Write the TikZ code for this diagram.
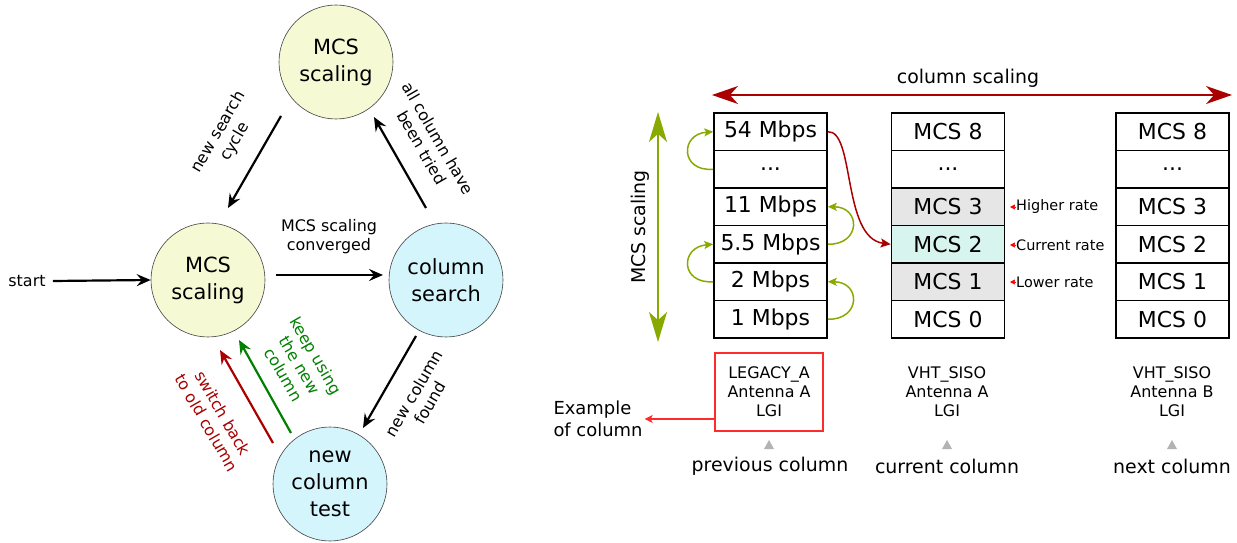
\documentclass[tikz,border=0pt]{standalone}
\usepackage{fontspec}
\setmainfont{DejaVu Sans}
\usetikzlibrary{arrows.meta,calc}
\definecolor{cyel}{HTML}{F6FAD4}
\definecolor{cblu}{HTML}{D5F5FD}
\definecolor{dred}{HTML}{AA0000}
\definecolor{dgreen}{HTML}{008000}
\definecolor{olv}{HTML}{88AA00}
\definecolor{brred}{HTML}{FF2A2A}
\definecolor{cgray}{HTML}{E6E6E6}
\definecolor{cteal}{HTML}{D7F4EE}
\definecolor{tgray}{HTML}{B3B3B3}
\newcommand{\fsz}[2]{\fontsize{#1}{#2}\selectfont}
\begin{document}
\begin{tikzpicture}[x=1bp,y=-1bp,
  state/.style={circle,draw=black!75,line width=0.6pt,minimum size=114bp,inner sep=0pt,align=center,font=\fsz{21}{27}},
  elabel/.style={align=center,font=\fsz{16}{19},inner sep=0pt},
  arr/.style={line width=2.2pt,-{Stealth[length=14pt,width=12pt,inset=5pt]}},
  cell/.style={draw,line width=1.6pt,minimum width=113bp,minimum height=37.5bp,inner sep=0pt,font=\fsz{22}{26}},
  olvcurve/.style={olv,line width=1.5pt,-{Stealth[length=9pt,width=8pt,inset=2pt]}},
  ratelab/.style={anchor=west,inner sep=0pt,font=\fsz{14.5}{17}},
  ratetip/.style={red,line width=0.5pt,-{Triangle[length=5pt,width=5pt]}},
  colinfo/.style={align=center,font=\fsz{16}{19},inner sep=0pt},
  collab/.style={font=\fsz{19}{22},inner sep=0pt}]
\useasboundingbox (0,0) rectangle (1237,543);

% ---------- left: state machine ----------
\node[state,fill=cyel] (T) at (336,62) {MCS\\scaling};
\node[state,fill=cyel] (L) at (208,280) {MCS\\scaling};
\node[state,fill=cblu] (C) at (446,280) {column\\search};
\node[state,fill=cblu] (N) at (330,484) {new\\column\\test};
\node[elabel] (st) at (27,281) {start};

\coordinate (e1s) at ($(T)+(-55,54)$);
\coordinate (e1e) at ($(L)+(20,-72)$);
\coordinate (e2s) at ($(C)+(-20,-72)$);
\coordinate (e2e) at ($(T)+(38,55)$);
\coordinate (e3s) at ($(L)+(68,-5)$);
\coordinate (e3e) at ($(C)+(-63,-5)$);
\coordinate (e4s) at ($(C)+(-30,56)$);
\coordinate (e4e) at ($(N)+(33,-56)$);
\coordinate (e5s) at ($(N)+(-39,-51)$);
\coordinate (e5e) at ($(L)+(31,60)$);
\coordinate (e6s) at ($(N)+(-57,-41)$);
\coordinate (e6e) at ($(L)+(12,70)$);
\coordinate (sts) at ($(st.east)+(7,0)$);

\draw[arr] (sts) -- (L.west);
\draw[arr] (e1s) -- (e1e);
\draw[arr] (e2s) -- (e2e);
\draw[arr] (e3s) -- (e3e);
\draw[arr] (e4s) -- (e4e);
\draw[arr,dgreen] (e5s) -- (e5e);
\draw[arr,dred] (e6s) -- (e6e);

\node[elabel,rotate=60] (l1) at (227,137) {new search\\cycle};
\node[elabel,rotate=-60] (l2) at (430,143) {all column have\\been tried};
\node[elabel] (l3) at (329,237) {MCS scaling\\converged};
\node[elabel,rotate=60] (l4) at (422,398) {new column\\found};
\node[elabel,rotate=-60,text=dgreen] (l5) at (300,365) {keep using\\the new\\column};
\node[elabel,rotate=-60,text=dred] (l6) at (215,418) {switch back\\to old column};

% ---------- right: columns ----------
\node[cell] (a1) at (770.5,131.75) {54 Mbps};
\node[cell] (a2) at (770.5,169.25) {...};
\node[cell] (a3) at (770.5,206.75) {11 Mbps};
\node[cell] (a4) at (770.5,244.25) {5.5 Mbps};
\node[cell] (a5) at (770.5,281.75) {2 Mbps};
\node[cell] (a6) at (770.5,319.25) {1 Mbps};

\node[cell] (b1) at (948,131.75) {MCS 8};
\node[cell] (b2) at (948,169.25) {...};
\node[cell,fill=cgray] (b3) at (948,206.75) {MCS 3};
\node[cell,fill=cteal] (b4) at (948,244.25) {MCS 2};
\node[cell,fill=cgray] (b5) at (948,281.75) {MCS 1};
\node[cell] (b6) at (948,319.25) {MCS 0};

\node[cell] (c1) at (1172.5,131.75) {MCS 8};
\node[cell] (c2) at (1172.5,169.25) {...};
\node[cell] (c3) at (1172.5,206.75) {MCS 3};
\node[cell] (c4) at (1172.5,244.25) {MCS 2};
\node[cell] (c5) at (1172.5,281.75) {MCS 1};
\node[cell] (c6) at (1172.5,319.25) {MCS 0};

% column scaling arrow
\coordinate (csl) at (712,95);
\coordinate (csr) at (1232,95);
\draw[dred,line width=1.6pt,{Stealth[length=26pt,width=18pt,inset=8pt]}-{Stealth[length=26pt,width=18pt,inset=8pt]}] (csl) -- (csr);
\node[collab] (csn) at (968,78) {column scaling};

% MCS scaling arrow
\coordinate (mst) at (658,112);
\coordinate (msb) at (658,342);
\draw[olv,line width=2pt,{Stealth[length=30pt,width=18pt,inset=8pt]}-{Stealth[length=30pt,width=18pt,inset=8pt]}] (mst) -- (msb);
\node[collab,rotate=90] (msn) at (640,227) {MCS scaling};

% green curved arrows
\draw[olvcurve] (a2.west) .. controls (680,172) and (680,134) .. (a1.west);
\draw[olvcurve] (a5.west) .. controls (680,284) and (680,247) .. (a4.west);
\draw[olvcurve] (a4.east) .. controls (861,245) and (861,207) .. (a3.east);
\draw[olvcurve] (a6.east) .. controls (861,320) and (861,282) .. (a5.east);

% red curve
\draw[dred,line width=1.5pt,-{Stealth[length=10pt,width=9pt,inset=2pt]}] (a1.east) .. controls (855,130) and (842,238) .. (b4.west);

% rate labels
\node[ratelab] (hr) at (1016,207) {Higher rate};
\node[ratelab] (cr) at (1016,245) {Current rate};
\node[ratelab] (lr) at (1016,282) {Lower rate};
\coordinate (hrt) at ($(hr.west)+(-6,0)$);
\coordinate (crt) at ($(cr.west)+(-6,0)$);
\coordinate (lrt) at ($(lr.west)+(-6,0)$);
\draw[ratetip] (hr.west) -- (hrt);
\draw[ratetip] (cr.west) -- (crt);
\draw[ratetip] (lr.west) -- (lrt);

% column info
\node[colinfo,draw=brred,line width=1.2pt,minimum width=108bp,minimum height=78bp] (ia) at (769,392) {LEGACY\_A\\Antenna A\\LGI};
\node[colinfo] (ib) at (947,392) {VHT\_SISO\\Antenna A\\LGI};
\node[colinfo] (ic) at (1172,392) {VHT\_SISO\\Antenna B\\LGI};
\node[colinfo,align=left,font=\fsz{18}{22}] (ex) at (598,419) {Example\\of column};
\draw[brred,line width=1.2pt,-{Stealth[length=8pt,width=8pt,inset=2pt]}] (ia.west |- ex.east) -- ([xshift=2bp]ex.east);

\node[collab] (pa) at (770,466) {previous column};
\node[collab] (pb) at (947,466) {current column};
\node[collab] (pc) at (1172,466) {next column};
\foreach \x in {769,947,1172}
  \fill[tgray] (\x-5,449) -- (\x,440) -- (\x+5,449) -- cycle;
\end{tikzpicture}
\end{document}
